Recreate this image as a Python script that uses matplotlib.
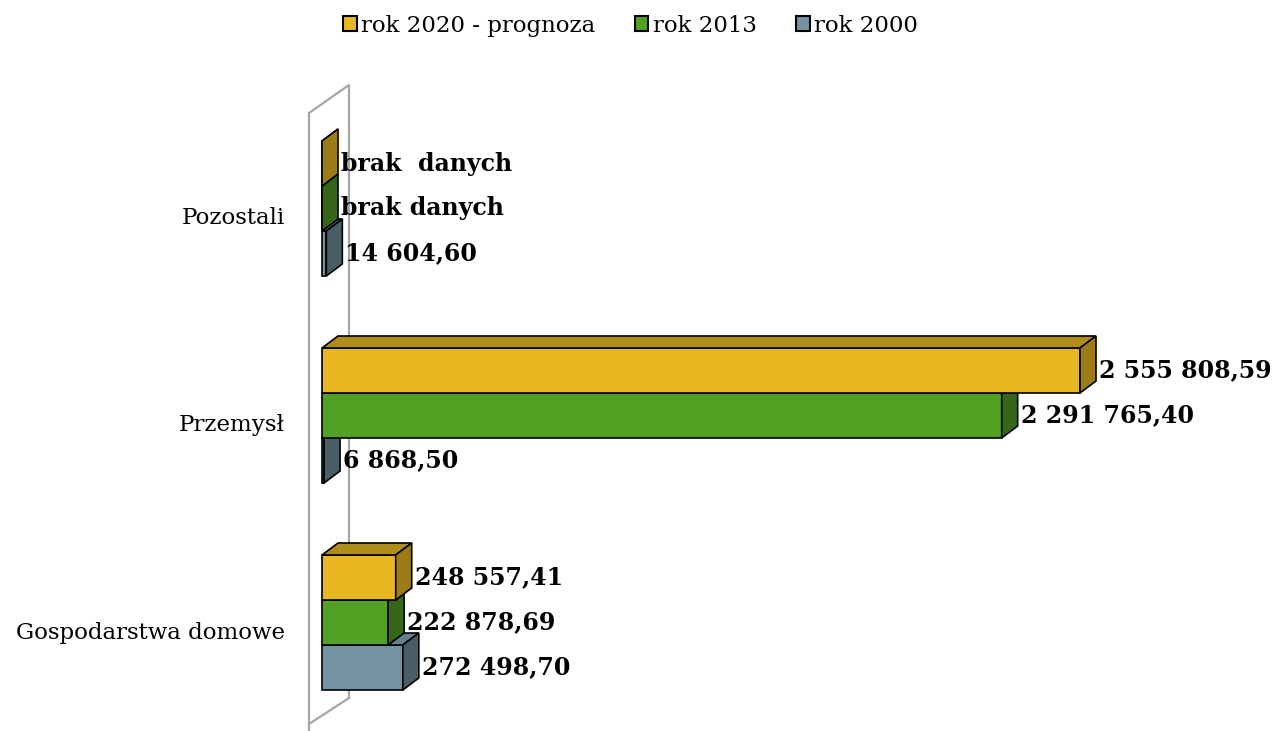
import numpy as np
import matplotlib.pyplot as plt
from matplotlib.patches import Patch

# data
categories = ['Gospodarstwa domowe', 'Przemysł', 'Pozostali']
series = ['rok 2020 - prognoza', 'rok 2013', 'rok 2000']
values_2020 = [248557.41, 2555808.59, None]
values_2013 = [222878.69, 2291765.40, None]
values_2000 = [272498.70, 6868.50, 14604.60]
labels_2020 = ['248 557,41', '2 555 808,59', 'brak  danych']
labels_2013 = ['222 878,69', '2 291 765,40', 'brak danych']
labels_2000 = ['272 498,70', '6 868,50', '14 604,60']

all_values = [values_2020, values_2013, values_2000]
all_labels = [labels_2020, labels_2013, labels_2000]

# colours: front, top, side
colors = [
    ('#E7B821', '#B08D1B', '#9C7C16'),
    ('#52A024', '#3F7A1D', '#366619'),
    ('#7393A3', '#62808F', '#495D67'),
]

W, H = 1274, 731
fig = plt.figure(figsize=(W / 100, H / 100), dpi=100)
ax = fig.add_axes([0, 0, 1, 1])

# pixel scales (used only to size the axes / 3D depth)
px_per_unit = 758 / 2555808.59
px_per_cat = 207
x0_px = 322
y0_px = 108.5
ax.set_xlim(-x0_px / px_per_unit, (W - x0_px) / px_per_unit)
ax.set_ylim(-y0_px / px_per_cat, (H - y0_px) / px_per_cat)
ax.axis('off')

h = 45 / px_per_cat
dx = 16 / px_per_unit
dy = 12 / px_per_cat

# back wall (decoration, in axes fraction)
def fx(px):
    return px / W

def fy(py):
    return 1 - py / H

wall = [(309, 735), (309, 113), (349, 85), (349, 698)]
ax.plot([fx(p[0]) for p in wall], [fy(p[1]) for p in wall],
        transform=ax.transAxes, color='#A6A6A6', lw=1.6, zorder=1)
ax.plot([fx(349), fx(309)], [fy(698), fy(724)], transform=ax.transAxes,
        color='#A6A6A6', lw=1.6, zorder=1)

z = 2
for i, cat in enumerate(categories):
    # draw bottom bar first so upper bars cover it
    for j in [2, 1, 0]:
        v = all_values[j][i]
        w = 0 if v is None else v
        y = i + (1 - j) * h
        front, top, side = colors[j]
        ax.barh(y, w, height=h, left=0, color=front, edgecolor='black',
                linewidth=1.2, zorder=z)
        ax.fill([0, w, w + dx, dx], [y + h / 2, y + h / 2, y + h / 2 + dy, y + h / 2 + dy],
                facecolor=top, edgecolor='black', linewidth=1.2, zorder=z)
        ax.fill([w, w + dx, w + dx, w], [y - h / 2, y - h / 2 + dy, y + h / 2 + dy, y + h / 2],
                facecolor=side, edgecolor='black', linewidth=1.2, zorder=z)
        z += 1
        ax.text(w + dx + 3 / px_per_unit, y, all_labels[j][i],
                ha='left', va='center', fontsize=17, fontweight='bold',
                family='DejaVu Serif', zorder=50)
    ax.text(-37 / px_per_unit, i - 10 / px_per_cat, cat, ha='right', va='center',
            fontsize=16.5, family='DejaVu Serif')

handles = [Patch(facecolor=c[0], edgecolor='black', linewidth=1.5) for c in colors]
fig.legend(handles, series, loc='upper center', bbox_to_anchor=(0.495, 1.008), ncol=3,
           frameon=False, prop={'family': 'DejaVu Serif', 'size': 16.5},
           handlelength=0.6, handleheight=0.6, handletextpad=0.2, columnspacing=1.7)

fig.savefig('out.png', dpi=100)
